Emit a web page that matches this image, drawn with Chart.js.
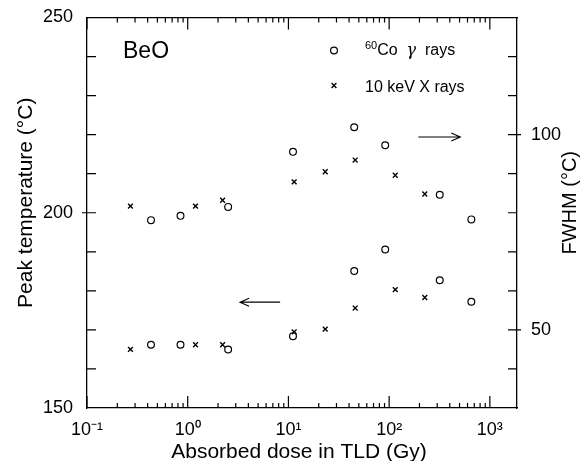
<!DOCTYPE html>
<html><head><meta charset="utf-8">
<script src="https://cdn.jsdelivr.net/npm/chart.js@4"></script>
<style>html,body{margin:0;padding:0;background:#fff;overflow:hidden;}</style>
</head><body>
<canvas id="c" width="581" height="461"></canvas>
<script>
// ---- data ----
const gammaDose = [0.432, 0.848, 2.52, 11.1, 45.0, 91.4, 318, 655];
const gammaFWHM = [78.1, 79.2, 81.5, 95.6, 101.9, 97.3, 84.6, 78.3];
const gammaPeak = [166.2, 166.2, 165.0, 168.4, 185.1, 190.6, 182.7, 177.2];
const xrayDose = [0.270, 1.195, 2.22, 11.4, 23.2, 46.0, 115, 226];
const xrayFWHM = [81.7, 81.7, 83.2, 87.9, 90.5, 93.5, 89.6, 84.8];
const xrayPeak = [165.0, 166.2, 166.2, 169.5, 170.2, 175.6, 180.3, 178.3];
const xTickValues = [0.1, 1, 10, 100, 1000];
const xTickLabels = ['10\u207B\u00B9', '10\u2070', '10\u00B9', '10\u00B2', '10\u00B3'];
const leftTickValues = [150, 200, 250];
const rightTickValues = [50, 100];
const arrowRight = {from: 195, to: 509, fwhm: 99.4};
const arrowLeft = {from: 8.27, to: 3.31, peak: 177.1};

const FONT = "'Liberation Sans', Arial, Helvetica, sans-serif";
const pts = (xs, ys) => xs.map((x, i) => ({x: x, y: ys[i]}));

const circleStyle = {pointStyle: 'circle', pointRadius: 3.4, pointBorderWidth: 1.2,
  pointBackgroundColor: 'rgba(0,0,0,0)', pointBorderColor: '#000', showLine: false};
const crossStyle = {pointStyle: 'crossRot', pointRadius: 3.4, pointBorderWidth: 1.4,
  pointBackgroundColor: '#000', pointBorderColor: '#000', showLine: false};

const decor = {
  id: 'decor',
  afterDraw(chart) {
    const ctx = chart.ctx, a = chart.chartArea;
    const xs = chart.scales.x, yl = chart.scales.y, yr = chart.scales.y2;
    ctx.save();
    ctx.strokeStyle = '#000'; ctx.fillStyle = '#000'; ctx.lineWidth = 1.2;
    ctx.beginPath();
    // x axis ticks (bottom and top, inward)
    for (let e = -1; e <= 3; e++) {
      for (let m = 1; m <= 9; m++) {
        const v = m * Math.pow(10, e);
        if (v < xs.min || v > xs.max) continue;
        const px = xs.getPixelForValue(v);
        const L = m === 1 ? 12 : 5;
        ctx.moveTo(px, a.bottom); ctx.lineTo(px, a.bottom - L);
        ctx.moveTo(px, a.top); ctx.lineTo(px, a.top + L);
      }
    }
    // left ticks
    for (let v = 160; v < 250; v += 10) {
      const py = yl.getPixelForValue(v);
      const out = (v === 200) ? 5 : 0;
      ctx.moveTo(a.left - out, py); ctx.lineTo(a.left + 9, py);
    }
    // right ticks
    for (let v = 40; v < 130; v += 10) {
      const py = yr.getPixelForValue(v);
      const out = (v === 50 || v === 100) ? 4 : 0;
      ctx.moveTo(a.right + out, py); ctx.lineTo(a.right - 9, py);
    }
    ctx.stroke();

    // arrows
    const drawArrow = (x1, x2, y) => {
      const dir = Math.sign(x2 - x1);
      ctx.beginPath();
      ctx.lineWidth = 1.1;
      ctx.moveTo(x1, y); ctx.lineTo(x2, y);
      ctx.moveTo(x2 - dir * 9, y - 4); ctx.lineTo(x2, y); ctx.lineTo(x2 - dir * 9, y + 4);
      ctx.stroke();
    };
    drawArrow(xs.getPixelForValue(arrowRight.from), xs.getPixelForValue(arrowRight.to), yr.getPixelForValue(arrowRight.fwhm));
    drawArrow(xs.getPixelForValue(arrowLeft.from), xs.getPixelForValue(arrowLeft.to), yl.getPixelForValue(arrowLeft.peak));

    // BeO label
    ctx.textAlign = 'left'; ctx.textBaseline = 'alphabetic';
    ctx.font = '23px ' + FONT;
    ctx.fillText('BeO', a.left + 36, a.top + 40);

    // legend
    const lx = a.left + 247;
    ctx.lineWidth = 1.2;
    ctx.beginPath(); ctx.arc(lx, a.top + 33, 3.4, 0, Math.PI * 2); ctx.stroke();
    ctx.lineWidth = 1.4;
    ctx.beginPath();
    ctx.moveTo(lx - 2.4, a.top + 65.6); ctx.lineTo(lx + 2.4, a.top + 70.4);
    ctx.moveTo(lx - 2.4, a.top + 70.4); ctx.lineTo(lx + 2.4, a.top + 65.6);
    ctx.stroke();
    const tx = a.left + 278;
    ctx.font = '11px ' + FONT;
    ctx.fillText('60', tx, a.top + 31);
    let w = ctx.measureText('60').width;
    ctx.font = '16px ' + FONT;
    ctx.fillText('Co', tx + w, a.top + 37);
    w += ctx.measureText('Co  ').width;
    ctx.font = 'italic 16px "DejaVu Serif", serif';
    ctx.fillText('\u03B3', tx + w, a.top + 37);
    w += ctx.measureText('\u03B3').width;
    ctx.font = '16px ' + FONT;
    ctx.fillText('  rays', tx + w, a.top + 37);
    ctx.fillText('10 keV X rays', tx, a.top + 74);

    // axis titles
    ctx.font = '21px ' + FONT;
    ctx.textAlign = 'center'; ctx.textBaseline = 'middle';
    ctx.fillText('Absorbed dose in TLD (Gy)', (a.left + a.right) / 2 - 3, 452);
    ctx.save();
    ctx.translate(26, (a.top + a.bottom) / 2 - 10);
    ctx.rotate(-Math.PI / 2);
    ctx.fillText('Peak temperature (\u00B0C)', 0, 0);
    ctx.restore();
    ctx.save();
    ctx.font = '20px ' + FONT;
    ctx.translate(570, (a.top + a.bottom) / 2 - 10);
    ctx.rotate(-Math.PI / 2);
    ctx.fillText('FWHM (\u00B0C)', 0, 0);
    ctx.restore();
    ctx.restore();
  }
};

const axisBorder = {display: true, color: '#000', width: 1.3};
const tickFont = {family: FONT, size: 18};

new Chart(document.getElementById('c'), {
  type: 'scatter',
  data: {
    datasets: [
      Object.assign({label: '60Co \u03B3 rays (FWHM)', data: pts(gammaDose, gammaFWHM), yAxisID: 'y2'}, circleStyle),
      Object.assign({label: '10 keV X rays (FWHM)', data: pts(xrayDose, xrayFWHM), yAxisID: 'y2'}, crossStyle),
      Object.assign({label: '60Co \u03B3 rays (peak)', data: pts(gammaDose, gammaPeak), yAxisID: 'y'}, circleStyle),
      Object.assign({label: '10 keV X rays (peak)', data: pts(xrayDose, xrayPeak), yAxisID: 'y'}, crossStyle)
    ]
  },
  options: {
    responsive: false,
    animation: false,
    devicePixelRatio: 1,
    layout: {padding: 0},
    plugins: {legend: {display: false}, tooltip: {enabled: false}},
    scales: {
      x: {
        type: 'logarithmic', position: 'bottom', min: 0.1, max: 1860,
        grid: {display: false}, border: axisBorder,
        afterBuildTicks: s => { s.ticks = xTickValues.map(v => ({value: v})); },
        afterFit: s => { s.height = 53; },
        ticks: {autoSkip: false, maxRotation: 0, color: '#000', font: tickFont, padding: 3,
          callback: v => { const i = xTickValues.indexOf(v); return i >= 0 ? xTickLabels[i] : ''; }}
      },
      xTop: {
        type: 'logarithmic', position: 'top', min: 0.1, max: 1860,
        grid: {display: false}, border: axisBorder,
        ticks: {display: false},
        afterFit: s => { s.height = 17.5; }
      },
      y: {
        type: 'linear', position: 'left', min: 150, max: 250,
        grid: {display: false}, border: axisBorder,
        afterBuildTicks: s => { s.ticks = leftTickValues.map(v => ({value: v})); },
        afterFit: s => { s.width = 87; },
        ticks: {color: '#000', font: tickFont, padding: 6}
      },
      y2: {
        type: 'linear', position: 'right', min: 30, max: 130,
        grid: {display: false}, border: axisBorder,
        afterBuildTicks: s => { s.ticks = rightTickValues.map(v => ({value: v})); },
        afterFit: s => { s.width = 64; },
        ticks: {color: '#000', font: tickFont, padding: 6}
      }
    }
  },
  plugins: [decor]
});
</script>
</body></html>
